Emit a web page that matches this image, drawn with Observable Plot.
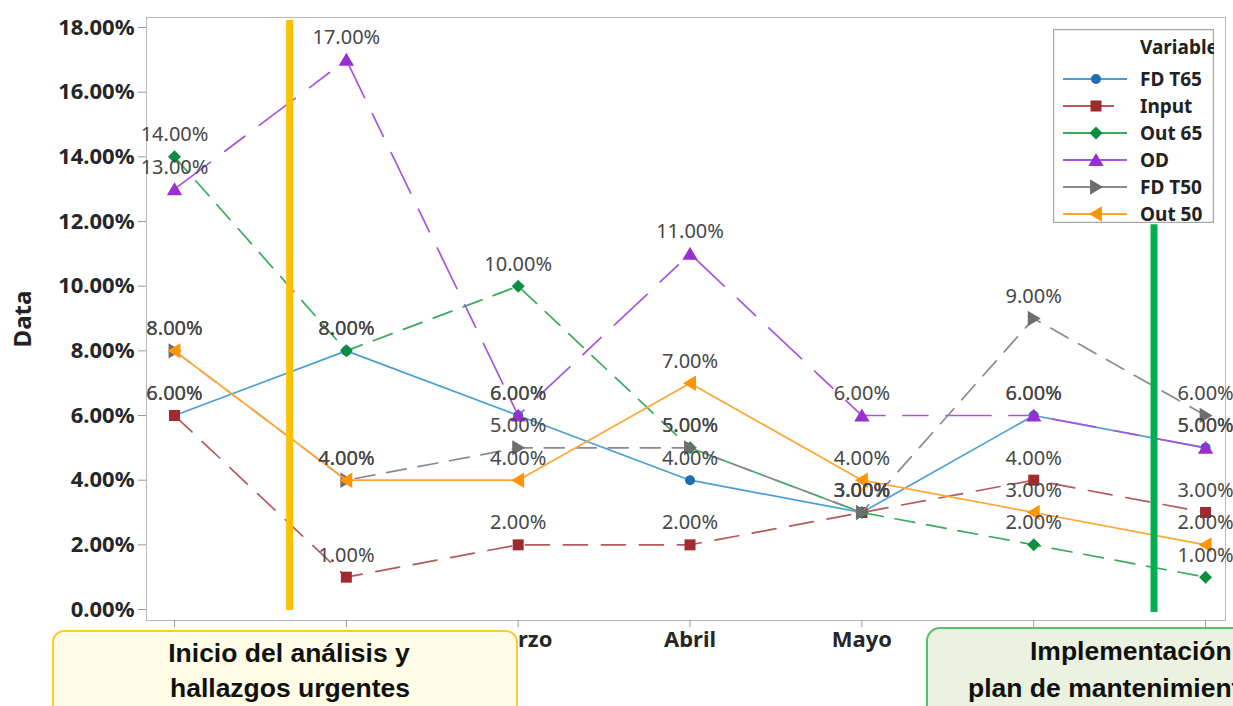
<!DOCTYPE html>
<html><head><meta charset="utf-8">
<script src="https://cdn.jsdelivr.net/npm/d3@7"></script>
<script src="https://cdn.jsdelivr.net/npm/@observablehq/plot@0.6"></script>
<style>
html,body{margin:0;padding:0;background:#fff;overflow:hidden;}
</style></head><body><div id="chart"></div>
<script>
// ---- data ----
const months = ["Enero", "Febrero", "Marzo", "Abril", "Mayo", "Junio", "Julio"];
const seriesNames = ["FD T65", "Input", "Out 65", "OD", "FD T50", "Out 50"];
const fdT65 = [6, 8, 6, 4, 3, 6, 5];
const input = [6, 1, 2, 2, 3, 4, 3];
const out65 = [14, 8, 10, 5, 3, 2, 1];
const od = [13, 17, 6, 11, 6, 6, 5];
const fdT50 = [8, 4, 5, 5, 3, 9, 6];
const out50 = [8, 4, 4, 7, 4, 3, 2];
const yTicks = [0, 2, 4, 6, 8, 10, 12, 14, 16, 18];
const phaseLines = [1.67, 6.70];
const phaseTexts = [["Inicio del análisis y", "hallazgos urgentes"], ["Implementación del", "plan de mantenimiento"]];

const allValues = [fdT65, input, out65, od, fdT50, out50];

// ---- custom symbols ----
const rOf = size => Math.sqrt(size / Math.PI);
const symSquare = {draw(c, s){const r = rOf(s); c.rect(-r, -r, 2*r, 2*r);}};
const symDiamond = {draw(c, s){const r = rOf(s); c.moveTo(0,-r); c.lineTo(r,0); c.lineTo(0,r); c.lineTo(-r,0); c.closePath();}};
const symUp = {draw(c, s){const r = rOf(s); c.moveTo(0,-r); c.lineTo(r*1.1,r*0.85); c.lineTo(-r*1.1,r*0.85); c.closePath();}};
const symRight = {draw(c, s){const r = rOf(s); c.moveTo(r,0); c.lineTo(-r*0.85,-r*1.1); c.lineTo(-r*0.85,r*1.1); c.closePath();}};
const symLeft = {draw(c, s){const r = rOf(s); c.moveTo(-r,0); c.lineTo(r*0.85,-r*1.1); c.lineTo(r*0.85,r*1.1); c.closePath();}};
const symCircle = {draw(c, s){const r = rOf(s); c.moveTo(r,0); c.arc(0,0,r,0,2*Math.PI);}};

const styles = [
  {line: "#4a9ed6", fill: "#1f6db3", dash: undefined, symbol: symCircle, r: 5},
  {line: "#b4585a", fill: "#a02b2e", dash: "24,14", symbol: symSquare, r: 5.5},
  {line: "#3aab5e", fill: "#0a8f40", dash: "20,12", symbol: symDiamond, r: 6.5},
  {line: "#a655dc", fill: "#9a2fd1", dash: "45,18,25,18", symbol: symUp, r: 7},
  {line: "#8a8a8a", fill: "#6e6e6e", dash: "20,12", symbol: symRight, r: 7},
  {line: "#ffa630", fill: "#ff9500", dash: undefined, symbol: symLeft, r: 7}
];

const FONT = "'Noto Sans', 'Open Sans', sans-serif";
const pct = v => v.toFixed(2) + "%";

const seriesData = allValues.map((vals, k) => vals.map((v, i) => ({x: i + 1, y: v, s: seriesNames[k]})));

const marks = [
  Plot.frame({stroke: "#b8b8b8"}),
  Plot.axisY(yTicks, {tickSize: 8, tickPadding: 4, tickFormat: pct, fontSize: 22, fontWeight: "bold", fill: "#262626", stroke: "#9a9a9a", label: null}),
  Plot.axisX(months.map((m, i) => i + 1), {tickSize: 7, tickPadding: 4, tickFormat: i => months[i - 1], fontSize: 22, fontWeight: "bold", fill: "#262626", stroke: "#9a9a9a", label: null}),
  Plot.text(["Data"], {frameAnchor: "left", textAnchor: "middle", dx: -123, rotate: -90, fontSize: 24, fontWeight: "bold", fill: "#222"})
];

seriesData.forEach((data, k) => {
  const st = styles[k];
  const lineOpts = {x: "x", y: "y", stroke: st.line, strokeWidth: 1.7};
  if (st.dash) lineOpts.strokeDasharray = st.dash;
  marks.push(Plot.line(data, lineOpts));
  marks.push(Plot.dot(data, {x: "x", y: "y", symbol: st.symbol, r: st.r, fill: st.fill, stroke: "none"}));
});

marks.push(Plot.ruleX([phaseLines[0]], {y1: -0.03, y2: 18.22, stroke: "#ffc000", strokeWidth: 7}));
marks.push(Plot.ruleX([phaseLines[1]], {y1: -0.09, y2: 11.9, stroke: "#00b050", strokeWidth: 7}));

seriesData.forEach(data => {
  marks.push(Plot.text(data, {x: "x", y: "y", text: d => pct(d.y), dy: -22, fontSize: 20, fill: "#474747"}));
});

const chart = Plot.plot({
  width: 1233, height: 706,
  marginTop: 17, marginRight: 8, marginBottom: 86, marginLeft: 146,
  style: {fontFamily: FONT, background: "#fff", overflow: "hidden"},
  x: {type: "linear", domain: [0.837, 7.116]},
  y: {domain: [-0.34, 18.31]},
  marks
});
document.getElementById("chart").appendChild(chart);

// ---- annotations: phase boxes ----
const svg = d3.select(chart);
const BOXFONT = "'Liberation Sans', Arial, sans-serif";
const ann = svg.append("g");
ann.append("rect").attr("x", 53).attr("y", 631).attr("width", 464).attr("height", 110).attr("rx", 11)
  .attr("fill", "#fffde6").attr("stroke", "#ffca2e").attr("stroke-width", 2);
ann.append("rect").attr("x", 927).attr("y", 628).attr("width", 340).attr("height", 110).attr("rx", 13)
  .attr("fill", "#ebf2df").attr("stroke", "#5cbd6c").attr("stroke-width", 2);
const boxText = (txt, x, y, anchor) => ann.append("text").attr("x", x).attr("y", y).attr("text-anchor", anchor)
  .attr("font-family", BOXFONT).attr("font-weight", "bold").attr("font-size", 26.5).attr("fill", "#111").text(txt);
boxText(phaseTexts[0][0], 289, 662, "middle");
boxText(phaseTexts[0][1], 290, 697, "middle");
boxText(phaseTexts[1][0], 1030, 660, "start");
boxText(phaseTexts[1][1], 968, 697, "start");

// ---- legend ----
const defs = svg.append("defs");
defs.append("clipPath").attr("id", "lgclip").append("rect").attr("x", 1053).attr("y", 29).attr("width", 161).attr("height", 194);
const lg = svg.append("g").attr("clip-path", "url(#lgclip)");
lg.append("rect").attr("x", 1053.5).attr("y", 29.5).attr("width", 160).attr("height", 193)
  .attr("fill", "#fff").attr("stroke", "#a8a8a8").attr("stroke-width", 1.5);
lg.append("text").attr("x", 1140).attr("y", 54).attr("text-anchor", "start").attr("font-family", FONT).attr("font-weight", "bold")
  .attr("font-size", 19).attr("fill", "#222").text("Variable");
seriesNames.forEach((name, k) => {
  const st = styles[k];
  const y = 79 + k * 27;
  lg.append("line").attr("x1", 1063).attr("x2", k === 1 ? 1114 : 1127).attr("y1", y).attr("y2", y)
    .attr("stroke", st.line).attr("stroke-width", 2);
  lg.append("path").attr("transform", `translate(1096,${y})`)
    .attr("d", d3.symbol().type(st.symbol).size(st.r * st.r * Math.PI)()).attr("fill", st.fill);
  lg.append("text").attr("x", 1140).attr("y", y + 7).attr("text-anchor", "start").attr("font-family", FONT).attr("font-weight", "bold")
    .attr("font-size", 19).attr("fill", "#222").text(name);
});
</script></body></html>
